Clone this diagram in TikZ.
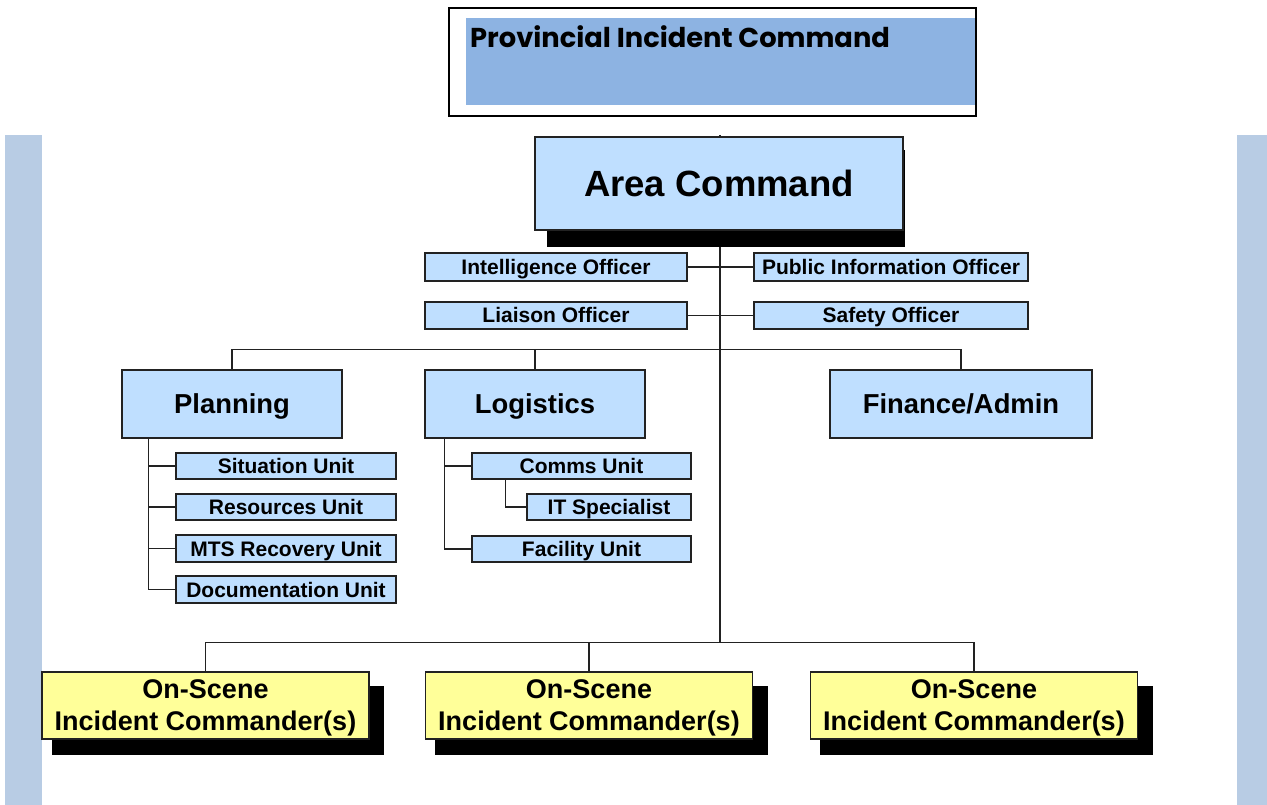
\documentclass[tikz,border=0pt]{standalone}
\usepackage{fontspec}
\setmainfont{Liberation Sans}
\newfontfamily\geofont{Poppins}
\definecolor{lblue}{RGB}{191,223,255}
\definecolor{pblue}{RGB}{141,179,226}
\definecolor{sidebar}{RGB}{184,204,228}
\definecolor{lyellow}{RGB}{255,255,153}
\definecolor{linec}{RGB}{34,34,34}
\begin{document}
\begin{tikzpicture}[x=1pt,y=-1pt,
  conn/.style={draw=linec, line width=1.5pt},
  bluebox/.style={draw=linec, line width=1.5pt, fill=lblue, inner sep=0pt, align=center},
  smallbox/.style={bluebox, text depth=0pt, text height=15pt, font=\bfseries\fontsize{21}{23}\selectfont},
  bigbox/.style={bluebox, text depth=0pt, font=\bfseries\fontsize{27.4}{30}\selectfont},
  osic/.style={draw=linec, line width=1.5pt, fill=lyellow, inner sep=0pt, align=center,
    minimum width=327pt, minimum height=67pt, text depth=0pt, font=\bfseries\fontsize{27}{32}\selectfont},
  shadowbox/.style={fill=black}
]
\useasboundingbox (0,0) rectangle (1267,805);

% side bars
\fill[sidebar] (5,135) rectangle (42,805);
\fill[sidebar] (1237,135) rectangle (1267,805);

% provincial command banner
\draw[line width=1.2pt, fill=white] (449,8) rectangle (976,116);
\fill[pblue] (466,18) rectangle (975,105);
\node[anchor=west, inner sep=0pt, font=\geofont\bfseries\fontsize{27.3}{30}\selectfont] (pic) at (470,37) {Provincial Incident Command};

% main trunk
\coordinate (trunktop) at (720,135);
\coordinate (trunkbot) at (720,643);
\draw[conn] (trunktop) -- (trunkbot);

% area command with shadow
\fill[shadowbox] (547,150) rectangle (905,247);
\node[bluebox, line width=2pt, minimum width=368pt, minimum height=93pt, font=\bfseries\fontsize{36.5}{40}\selectfont] (ac) at (719,183.5) {Area Command};

% command staff
\node[smallbox, minimum width=262pt, minimum height=28pt] (intel) at (556,267) {Intelligence Officer};
\node[smallbox, minimum width=274pt, minimum height=28pt] (pio) at (891,267) {Public Information Officer};
\node[smallbox, minimum width=262pt, minimum height=27pt] (liaison) at (556,315.5) {Liaison Officer};
\node[smallbox, minimum width=274pt, minimum height=27pt] (safety) at (891,315.5) {Safety Officer};
\draw[conn] (intel.east) -- (pio.west);
\draw[conn] (liaison.east) -- (safety.west);

% sections
\node[bigbox, minimum width=220pt, minimum height=68pt] (plan) at (232,404) {Planning};
\node[bigbox, minimum width=220pt, minimum height=68pt] (log) at (535,404) {Logistics};
\node[bigbox, minimum width=262pt, minimum height=68pt] (fin) at (961,404) {Finance/Admin};
\draw[conn] (plan.north) -- ++(0,-20) -| (fin.north);
\draw[conn] (log.north) -- ++(0,-20);

% planning units
\node[smallbox, minimum width=220pt, minimum height=26pt] (sit) at (286,466) {Situation Unit};
\node[smallbox, minimum width=220pt, minimum height=26pt] (res) at (286,507) {Resources Unit};
\node[smallbox, minimum width=220pt, minimum height=27pt] (mts) at (286,548.5) {MTS Recovery Unit};
\node[smallbox, minimum width=220pt, minimum height=27pt] (doc) at (286,589.5) {Documentation Unit};
\draw[conn] ([xshift=27pt]plan.south west) |- (doc.west);
\draw[conn] ([xshift=27pt]plan.south west) |- (sit.west);
\draw[conn] ([xshift=27pt]plan.south west) |- (res.west);
\draw[conn] ([xshift=27pt]plan.south west) |- (mts.west);

% logistics units
\node[smallbox, minimum width=219pt, minimum height=26pt] (comms) at (581.5,466) {Comms Unit};
\node[smallbox, minimum width=164pt, minimum height=26pt] (it) at (609,507) {IT Specialist};
\node[smallbox, minimum width=219pt, minimum height=26pt] (fac) at (581.5,549) {Facility Unit};
\draw[conn] ([xshift=20pt]log.south west) |- (fac.west);
\draw[conn] ([xshift=20pt]log.south west) |- (comms.west);
\draw[conn] ([xshift=34pt]comms.south west) |- (it.west);

% on-scene incident commanders
\fill[shadowbox] (52,686) rectangle (384,755);
\fill[shadowbox] (435,686) rectangle (768,755);
\fill[shadowbox] (820,686) rectangle (1153,755);
\node[osic] (osic1) at (205.5,705.5) {On-Scene\\Incident Commander(s)};
\node[osic] (osic2) at (589,705.5) {On-Scene\\Incident Commander(s)};
\node[osic] (osic3) at (974,705.5) {On-Scene\\Incident Commander(s)};
\draw[conn] (osic1.north) -- ++(0,-29) -| (osic3.north);
\draw[conn] (osic2.north) -- ++(0,-29);
\end{tikzpicture}
\end{document}
